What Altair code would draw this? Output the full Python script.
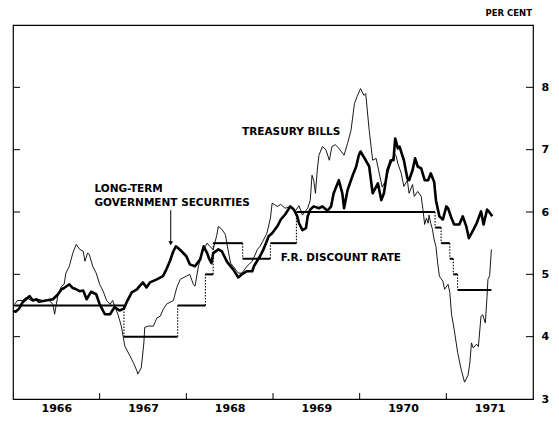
import altair as alt
import pandas as pd

# ---------------- data ----------------
tb_year = [1966.02, 1966.05, 1966.11, 1966.15, 1966.21, 1966.30, 1966.34, 1966.42, 1966.46, 1966.48,
           1966.52, 1966.56, 1966.59, 1966.61, 1966.65, 1966.69, 1966.73, 1966.77, 1966.81, 1966.83,
           1966.86, 1966.88, 1966.92, 1966.96, 1967.00, 1967.04, 1967.08, 1967.12, 1967.15, 1967.17,
           1967.21, 1967.25, 1967.29, 1967.35, 1967.39, 1967.43, 1967.44, 1967.48, 1967.51, 1967.52,
           1967.56, 1967.62, 1967.66, 1967.70, 1967.73, 1967.77, 1967.85, 1967.89, 1967.93, 1968.00,
           1968.04, 1968.08, 1968.10, 1968.14, 1968.18, 1968.20, 1968.24, 1968.27, 1968.31, 1968.35,
           1968.37, 1968.41, 1968.45, 1968.47, 1968.51, 1968.54, 1968.60, 1968.64, 1968.70, 1968.76,
           1968.82, 1968.85, 1968.89, 1968.93, 1968.97, 1968.99, 1969.05, 1969.09, 1969.14, 1969.20,
           1969.26, 1969.30, 1969.34, 1969.40, 1969.43, 1969.45, 1969.47, 1969.49, 1969.51, 1969.53,
           1969.57, 1969.61, 1969.65, 1969.68, 1969.72, 1969.76, 1969.82, 1969.86, 1969.90, 1969.94,
           1969.97, 1970.01, 1970.05, 1970.07, 1970.11, 1970.15, 1970.19, 1970.22, 1970.26, 1970.30,
           1970.34, 1970.38, 1970.40, 1970.42, 1970.44, 1970.48, 1970.51, 1970.55, 1970.57, 1970.61,
           1970.63, 1970.67, 1970.71, 1970.73, 1970.75, 1970.77, 1970.79, 1970.80, 1970.82, 1970.84,
           1970.86, 1970.88, 1970.90, 1970.92, 1970.96, 1970.98, 1971.02, 1971.04, 1971.06, 1971.09,
           1971.13, 1971.17, 1971.21, 1971.25, 1971.27, 1971.29, 1971.31, 1971.35, 1971.37, 1971.40,
           1971.42, 1971.45, 1971.47, 1971.48, 1971.50, 1971.52]
tb_rate = [4.52, 4.58, 4.58, 4.63, 4.58, 4.60, 4.58, 4.58, 4.52, 4.36,
           4.68, 4.81, 4.84, 5.02, 5.13, 5.34, 5.48, 5.40, 5.37, 5.21,
           5.34, 5.32, 5.13, 5.02, 4.84, 4.73, 4.58, 4.52, 4.58, 4.50,
           4.36, 4.17, 3.85, 3.69, 3.58, 3.45, 3.40, 3.50, 3.90, 4.15,
           4.17, 4.17, 4.30, 4.33, 4.43, 4.52, 4.58, 4.79, 4.92, 4.97,
           5.00, 4.84, 4.81, 5.13, 5.34, 5.40, 5.50, 5.45, 5.40, 5.62,
           5.77, 5.72, 5.64, 5.48, 5.18, 5.13, 5.02, 5.02, 5.13, 5.21,
           5.40, 5.45, 5.55, 5.66, 5.90, 6.14, 6.09, 6.12, 6.06, 6.09,
           6.02, 6.10, 5.95, 6.06, 6.19, 6.59, 6.51, 6.30, 6.66, 6.91,
           7.05, 7.00, 6.83, 7.05, 7.08, 7.02, 6.91, 7.10, 7.31, 7.74,
           7.85, 7.98, 7.87, 7.90, 7.31, 6.83, 6.86, 6.66, 6.40, 6.50,
           6.70, 6.85, 6.94, 6.90, 6.78, 6.62, 6.41, 6.51, 6.30, 6.44,
           6.25, 6.33, 6.25, 6.04, 5.80, 5.90, 5.82, 5.95, 5.82, 5.72,
           5.55, 5.45, 5.18, 4.97, 4.89, 4.76, 4.84, 4.71, 4.36, 4.12,
           3.75, 3.48, 3.27, 3.38, 3.56, 3.90, 3.82, 3.88, 3.84, 4.33,
           4.35, 4.22, 4.65, 4.92, 4.98, 5.40]

lt_year = [1966.00, 1966.03, 1966.07, 1966.11, 1966.15, 1966.19, 1966.23, 1966.27, 1966.30, 1966.38,
           1966.46, 1966.52, 1966.56, 1966.59, 1966.65, 1966.69, 1966.73, 1966.77, 1966.81, 1966.85,
           1966.90, 1966.96, 1967.00, 1967.06, 1967.12, 1967.17, 1967.23, 1967.28, 1967.31, 1967.37,
           1967.43, 1967.46, 1967.50, 1967.54, 1967.58, 1967.66, 1967.73, 1967.77, 1967.81, 1967.85,
           1967.88, 1967.93, 1968.00, 1968.04, 1968.10, 1968.16, 1968.20, 1968.24, 1968.26, 1968.29,
           1968.31, 1968.37, 1968.41, 1968.47, 1968.54, 1968.60, 1968.64, 1968.70, 1968.76, 1968.78,
           1968.85, 1968.89, 1968.95, 1968.99, 1969.05, 1969.09, 1969.14, 1969.20, 1969.24, 1969.28,
           1969.30, 1969.34, 1969.38, 1969.40, 1969.43, 1969.47, 1969.53, 1969.57, 1969.63, 1969.67,
           1969.70, 1969.76, 1969.80, 1969.82, 1969.86, 1969.92, 1969.96, 1969.99, 1970.01, 1970.07,
           1970.11, 1970.15, 1970.21, 1970.25, 1970.28, 1970.32, 1970.36, 1970.39, 1970.41, 1970.44,
           1970.46, 1970.51, 1970.55, 1970.57, 1970.61, 1970.64, 1970.67, 1970.71, 1970.75, 1970.79,
           1970.82, 1970.86, 1970.88, 1970.92, 1970.96, 1971.00, 1971.02, 1971.06, 1971.09, 1971.15,
           1971.19, 1971.23, 1971.26, 1971.31, 1971.35, 1971.40, 1971.43, 1971.47, 1971.50, 1971.53]
lt_rate = [4.41, 4.40, 4.45, 4.55, 4.60, 4.65, 4.58, 4.60, 4.56, 4.58,
           4.60, 4.68, 4.76, 4.78, 4.84, 4.78, 4.76, 4.73, 4.74, 4.60,
           4.72, 4.68, 4.52, 4.36, 4.36, 4.47, 4.42, 4.45, 4.55, 4.71,
           4.76, 4.81, 4.87, 4.79, 4.87, 4.92, 4.97, 5.08, 5.21, 5.37,
           5.45, 5.39, 5.29, 5.16, 5.13, 5.24, 5.45, 5.34, 5.26, 5.18,
           5.34, 5.40, 5.37, 5.20, 5.08, 4.95, 5.00, 5.05, 5.05, 5.13,
           5.29, 5.40, 5.61, 5.66, 5.77, 5.88, 5.96, 6.09, 6.04, 5.93,
           5.82, 5.71, 5.74, 5.93, 6.04, 6.09, 6.06, 6.09, 6.02, 6.09,
           6.30, 6.51, 6.30, 6.06, 6.35, 6.59, 6.73, 6.91, 6.97, 6.83,
           6.73, 6.30, 6.46, 6.19, 6.30, 6.67, 6.83, 6.83, 7.18, 7.02,
           7.05, 6.83, 6.54, 6.51, 6.67, 6.86, 6.73, 6.70, 6.51, 6.51,
           6.62, 6.48, 6.19, 5.93, 5.88, 6.09, 6.06, 5.90, 5.80, 5.80,
           5.93, 5.77, 5.58, 5.71, 5.82, 6.01, 5.80, 6.04, 5.99, 5.93]

# F.R. discount rate: change dates (last entry = end of record) and levels
dr_year = [1966.00, 1967.28, 1967.90, 1968.22, 1968.31, 1968.65, 1968.97, 1969.27,
           1970.87, 1970.94, 1971.04, 1971.08, 1971.13, 1971.52]
dr_rate = [4.5, 4.0, 4.5, 5.0, 5.5, 5.25, 5.5, 6.0, 5.75, 5.5, 5.25, 5.0, 4.75]

year_labels = [1966, 1967, 1968, 1969, 1970, 1971]
year_ticks = [1967, 1968, 1969, 1970, 1971]
rate_labels = [3, 4, 5, 6, 7, 8]
rate_ticks = [4, 5, 6, 7, 8]

label_text = ["TREASURY BILLS", "LONG-TERM", "GOVERNMENT SECURITIES", "F.R. DISCOUNT RATE"]
label_year = [1969.21, 1966.94, 1966.94, 1969.09]
label_rate = [7.29, 6.37, 6.14, 5.27]
label_align = ["center", "left", "left", "left"]

arrow_year = [1967.82]
arrow_top = [6.03]
arrow_tip = [5.50]

# ---------------- tables ----------------
tb = pd.DataFrame({"year": tb_year, "rate": tb_rate})
lt = pd.DataFrame({"year": lt_year, "rate": lt_rate})
dr_h = pd.DataFrame({"year": dr_year[:-1], "year2": dr_year[1:], "rate": dr_rate})
dr_v = pd.DataFrame({"year": dr_year[1:-1], "rate": dr_rate[:-1], "rate2": dr_rate[1:]})
yt = pd.DataFrame({"rate": rate_ticks})
xt = pd.DataFrame({"year": year_ticks})
labels = pd.DataFrame({"year": label_year, "rate": label_rate, "text": label_text, "align": label_align})
arrow = pd.DataFrame({"year": arrow_year, "rate": arrow_top, "rate2": arrow_tip})
tip = pd.DataFrame({"year": arrow_year, "rate": arrow_tip})

FONT = "DejaVu Sans"
W, H = 520, 374

xs = alt.Scale(domain=[1966, 1972], nice=False, zero=False)
ys = alt.Scale(domain=[3, 9], nice=False, zero=False)

x_axis = alt.Axis(values=[y + 0.5 for y in year_labels], labelExpr="toString(floor(datum.value))",
                  ticks=False, tickSize=0, domain=False, grid=False, title=None,
                  labelFont=FONT, labelFontWeight="bold", labelFontSize=11, labelColor="black",
                  labelPadding=3)
y_axis = alt.Axis(orient="right", values=rate_labels, ticks=False, tickSize=0, domain=False,
                  grid=False, title=None, labelFont=FONT, labelFontWeight="bold", labelFontSize=11,
                  labelColor="black", labelPadding=8, labelOverlap=False, format="d")

X = alt.X("year:Q", scale=xs, axis=x_axis)
Y = alt.Y("rate:Q", scale=ys, axis=y_axis)

tb_line = alt.Chart(tb).mark_line(color="black", strokeWidth=0.9).encode(x=X, y=Y)
lt_line = alt.Chart(lt).mark_line(color="black", strokeWidth=2.6, strokeJoin="round").encode(x=X, y=Y)
dr_hor = alt.Chart(dr_h).mark_rule(color="black", strokeWidth=2).encode(x=X, x2="year2:Q", y=Y)
dr_ver = alt.Chart(dr_v).mark_rule(color="black", strokeWidth=1.1, strokeDash=[1.5, 1.5]).encode(
    x=X, y=Y, y2="rate2:Q")

tick_r = alt.Chart(yt).mark_rule(color="black", strokeWidth=1).encode(
    y=Y, x=alt.value(W - 7), x2=alt.value(W))
tick_l = alt.Chart(yt).mark_rule(color="black", strokeWidth=1).encode(
    y=Y, x=alt.value(0), x2=alt.value(7))
tick_x = alt.Chart(xt).mark_rule(color="black", strokeWidth=1).encode(
    x=X, y=alt.value(H), y2=alt.value(H - 6))

text_base = dict(font=FONT, fontWeight="bold", fontSize=10.5, color="black", baseline="middle")
lab_c = alt.Chart(labels[labels["align"] == "center"]).mark_text(align="center", **text_base).encode(
    x=X, y=Y, text="text:N")
lab_l = alt.Chart(labels[labels["align"] == "left"]).mark_text(align="left", **text_base).encode(
    x=X, y=Y, text="text:N")

arrow_line = alt.Chart(arrow).mark_rule(color="black", strokeWidth=1).encode(x=X, y=Y, y2="rate2:Q")
arrow_head = alt.Chart(tip).mark_point(shape="triangle-down", filled=True, color="black",
                                       size=22, opacity=1).encode(x=X, y=Y)

per_cent = alt.Chart(pd.DataFrame({"t": ["PER CENT"]})).mark_text(
    font=FONT, fontWeight="bold", fontSize=8.5, color="black", align="right", baseline="middle"
).encode(text="t:N", x=alt.value(W - 1), y=alt.value(-12.5))

chart = alt.layer(
    dr_ver, tb_line, lt_line, dr_hor, tick_r, tick_l, tick_x,
    lab_c, lab_l, arrow_line, arrow_head, per_cent
).properties(
    width=W, height=H,
    autosize=alt.AutoSizeParams(type="none"),
    padding={"left": 5, "top": 17, "right": 18, "bottom": 15},
    background="white",
).configure_view(stroke="black", strokeWidth=1.2)

chart.save("out.html", embed_options={"renderer": "svg", "actions": False})
